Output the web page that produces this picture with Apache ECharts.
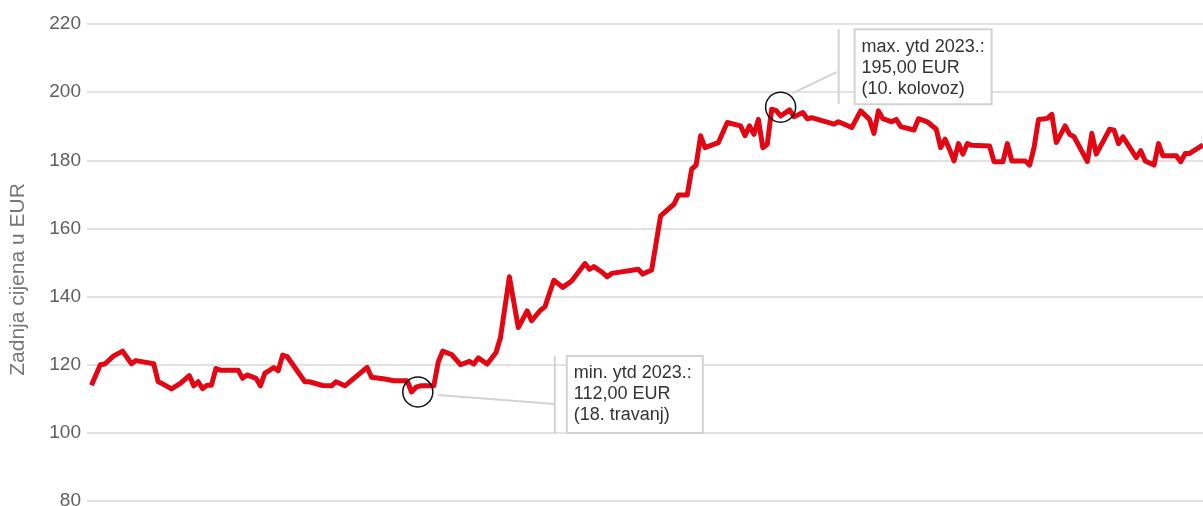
<!DOCTYPE html>
<html>
<head>
<meta charset="utf-8">
<title>Zadnja cijena</title>
<script src="https://cdn.jsdelivr.net/npm/echarts@6/dist/echarts.min.js"></script>
<style>
  html, body { margin: 0; padding: 0; background: #fff; }
  #chart { width: 1203px; height: 506px; }
</style>
</head>
<body>
<div id="chart"></div>
<script>
// trading day index (0 = first trading day of 2023) and last price in EUR
const days = [
  0, 2, 3, 5, 7, 9, 10, 14, 15, 16, 18, 20, 22, 23, 24, 25, 26, 27, 28, 29,
  33, 34, 35, 37, 38, 39, 40, 41, 42, 43, 44, 48, 49, 52, 54, 55, 57, 62, 63, 66,
  68, 71, 72, 73, 74, 77, 78, 79, 81, 83, 85, 86, 87, 89, 91, 92, 94, 96, 98, 99,
  101, 102, 104, 106, 108, 111, 112, 113, 115, 116, 117, 123, 124, 126, 128, 131, 132, 134, 135, 136,
  137, 138, 141, 143, 146, 147, 148, 149, 150, 151, 152, 153, 154, 155, 157, 158, 160, 161, 162, 167,
  168, 171, 173, 175, 176, 177, 178, 180, 181, 182, 185, 186, 188, 190, 191, 192, 193, 194, 195, 196,
  197, 198, 202, 203, 205, 206, 207, 210, 211, 212, 213, 215, 216, 217, 219, 220, 221, 224, 225, 226,
  229, 230, 231, 232, 235, 236, 237, 239, 240, 241, 244, 245, 246, 247, 250
];
const prices = [
  114, 120, 120.2, 122.6, 124, 120.3, 121.2, 120.3, 115, 114.4, 112.9, 114.5, 116.8, 113.8, 115, 113, 114, 114, 118.9, 118.4,
  118.4, 116, 117, 116, 113.8, 117.5, 118.3, 119.2, 118.2, 122.8, 122.4, 115, 115, 113.9, 113.8, 115, 113.8, 119.2, 116.3, 115.8,
  115.3, 115.3, 112, 113.4, 113.8, 113.8, 120.8, 124, 123, 120, 121, 120.2, 122, 120.2, 123.6, 128, 145.8, 130.9, 135.8, 132.9,
  136, 137, 144.8, 142.7, 144.6, 149.7, 148, 148.8, 147, 145.8, 146.8, 148, 146.6, 147.8, 163.7, 167.1, 169.8, 169.8, 177.4, 178.6,
  187.2, 183.7, 185.2, 191.1, 190.1, 187.2, 190.1, 187.6, 192, 183.7, 184.7, 195, 194.6, 193, 194.8, 192.8, 194, 192.2, 192.5, 190.6,
  191.3, 189.6, 194.5, 192, 187.9, 194.5, 192.2, 191.3, 192, 189.9, 188.9, 192.2, 191.3, 189.1, 183.7, 186.2, 183.2, 179.8, 184.9, 181.8,
  184.9, 184.4, 184.2, 179.6, 179.6, 184.9, 179.8, 179.8, 178.6, 183.7, 192, 192.3, 193.5, 185.2, 190.1, 187.6, 186.9, 179.6, 187.9, 181.8,
  189.1, 188.8, 184.9, 186.9, 180.8, 182.8, 179.8, 178.6, 184.9, 181.3, 181.3, 179.6, 182, 182, 184.5
];
const yTicks = [80, 100, 120, 140, 160, 180, 200, 220];

// circled extremes: [day, price] and the note text
const minMark = [73.4, 112];
const minText = ['min. ytd 2023.:', '112,00 EUR', '(18. travanj)'];
const maxMark = [155, 195.6];
const maxText = ['max. ytd 2023.:', '195,00 EUR', '(10. kolovoz)'];

const FONT = 'Liberation Sans, Arial, Helvetica, sans-serif';
const RED = '#e30613';
const GRID_GREY = '#d9d9d9';
const NOTE_GREY = '#d2d2d2';

const chart = echarts.init(document.getElementById('chart'), null, { renderer: 'canvas' });

const option = {
  backgroundColor: '#fff',
  animation: false,
  // the bottom "80" label is allowed to run off the edge, as in the original
  grid: { left: 87, right: 0, top: 24, bottom: 5, outerBoundsMode: 'none' },
  xAxis: {
    type: 'value',
    min: -1,
    max: 250,
    show: false
  },
  yAxis: {
    type: 'value',
    min: yTicks[0],
    max: yTicks[yTicks.length - 1],
    interval: 20,
    name: 'Zadnja cijena u EUR',
    nameLocation: 'middle',
    nameRotate: 90,
    nameGap: 58,
    // right padding pushes the rotated title a bit lower, like the original
    nameTextStyle: { color: '#777', fontSize: 21, fontFamily: FONT, padding: [0, 34, 0, 0] },
    axisLine: { show: false },
    axisTick: { show: false },
    axisLabel: { color: '#5f5f5f', fontSize: 19, fontFamily: FONT, margin: 6 },
    splitLine: { lineStyle: { color: GRID_GREY, width: 1.5 } }
  },
  series: [
    {
      type: 'line',
      data: days.map((d, i) => [d, prices[i]]),
      showSymbol: false,
      symbol: 'none',
      lineStyle: { color: RED, width: 5, join: 'round' },
      markPoint: {
        symbol: 'circle',
        symbolSize: 30,
        silent: true,
        label: { show: false },
        itemStyle: { color: 'rgba(0,0,0,0)', borderColor: '#111', borderWidth: 1.5 },
        data: [{ coord: minMark }, { coord: maxMark }]
      }
    }
  ]
};

chart.setOption(option);

// note box next to a circled point, placed by offsets from the circle centre
function note(center, conn, bar, box, lines) {
  const [cx, cy] = center;
  return [
    {
      type: 'line',
      shape: { x1: cx + conn[0], y1: cy + conn[1], x2: cx + conn[2], y2: cy + conn[3] },
      style: { stroke: NOTE_GREY, lineWidth: 2 }
    },
    {
      type: 'line',
      shape: { x1: cx + bar[0], y1: cy + bar[1], x2: cx + bar[0], y2: cy + bar[2] },
      style: { stroke: NOTE_GREY, lineWidth: 2 }
    },
    {
      type: 'rect',
      shape: { x: cx + box[0], y: cy + box[1], width: box[2], height: box[3] },
      style: { fill: '#fff', stroke: NOTE_GREY, lineWidth: 2 }
    },
    {
      type: 'text',
      x: cx + box[0] + 7,
      y: cy + box[1] + 7,
      style: {
        text: lines.join('\n'),
        fill: '#333',
        fontSize: 18,
        fontFamily: FONT,
        lineHeight: 21
      }
    }
  ];
}

const pMin = chart.convertToPixel({ gridIndex: 0 }, minMark);
const pMax = chart.convertToPixel({ gridIndex: 0 }, maxMark);

chart.setOption({
  graphic: [
    ...note(pMin, [20, 3, 137, 12], [137, -36, 41], [149, -36, 136, 77], minText),
    ...note(pMax, [12, -14, 56, -35], [58, -78, -3], [74, -78, 137, 75], maxText)
  ]
});
</script>
</body>
</html>
